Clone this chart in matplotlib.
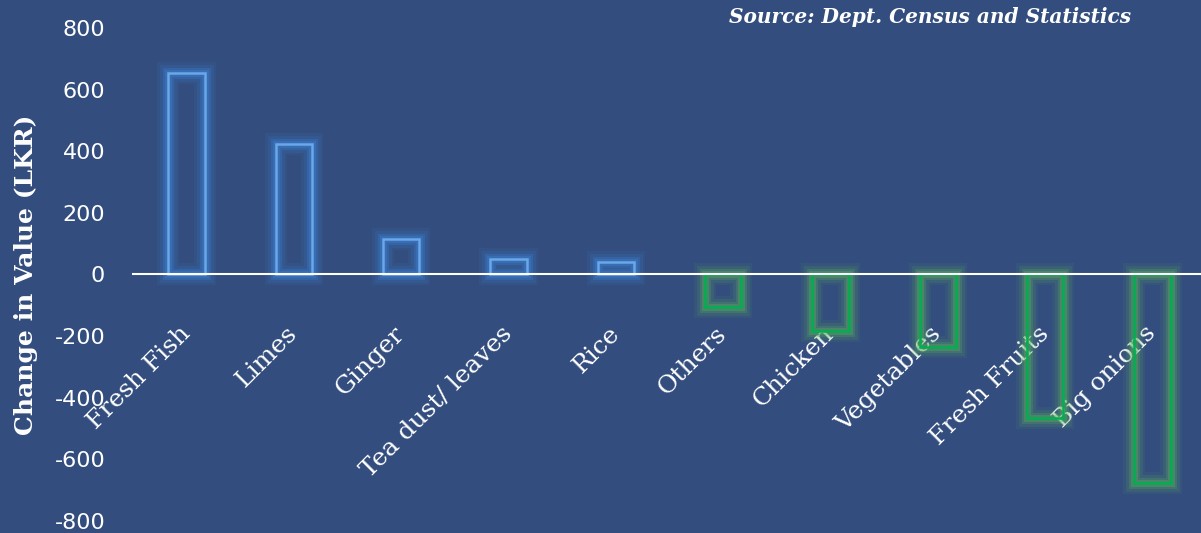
import matplotlib.pyplot as plt
import matplotlib.patheffects as pe

categories = ["Fresh Fish", "Limes", "Ginger", "Tea dust/ leaves", "Rice",
              "Others", "Chicken", "Vegetables", "Fresh Fruits", "Big onions"]
values = [655, 423, 114, 49, 39, -104, -182, -234, -465, -676]
yticks = [-800, -600, -400, -200, 0, 200, 400, 600, 800]

bg = "#334E7E"
blue_edge, blue_glow = "#6AA8E6", "#3F86E0"
green_edge, green_glow = "#00B050", "#5DB05D"

fig = plt.figure(figsize=(12.01, 5.33), dpi=100, facecolor=bg)
ax = fig.add_axes([0.1107, 0.0225, 0.8935, 0.925], facecolor=bg)

x = list(range(len(categories)))
edges = [blue_edge if v >= 0 else green_edge for v in values]
glows = [blue_glow if v >= 0 else green_glow for v in values]

bars = ax.bar(x, values, width=0.34, facecolor="none", edgecolor=edges,
              linewidth=1.8, zorder=3)
for b, g in zip(bars, glows):
    b.set_path_effects([
        pe.Stroke(linewidth=16, foreground=g, alpha=0.08),
        pe.Stroke(linewidth=12, foreground=g, alpha=0.14),
        pe.Stroke(linewidth=8, foreground=g, alpha=0.24),
        pe.Stroke(linewidth=5, foreground=g, alpha=0.32),
        pe.Normal(),
    ])

ax.set_xlim(-0.5, len(categories) - 0.5)
ax.set_ylim(-800, 800)
ax.set_yticks(yticks)
ax.set_yticklabels([str(t) for t in yticks], color="white", fontsize=16,
                   family="DejaVu Sans")
ax.tick_params(axis="y", length=0, pad=20)

# zero line doubles as the category axis
ax.spines["bottom"].set_position(("data", 0))
ax.spines["bottom"].set_color("white")
ax.spines["bottom"].set_linewidth(1.5)
ax.spines["bottom"].set_zorder(4)
for s in ["left", "right", "top"]:
    ax.spines[s].set_visible(False)

ax.set_xticks(x)
ax.set_xticklabels(categories, rotation=45, ha="right", va="center",
                   rotation_mode="anchor", color="white", fontsize=18,
                   family="DejaVu Serif")
ax.tick_params(axis="x", length=0, pad=40)

ax.set_ylabel("Change in Value (LKR)", color="white", fontsize=18,
              fontweight="bold", family="DejaVu Serif", labelpad=12)

fig.text(0.942, 0.968, "Source: Dept. Census and Statistics", color="white",
         fontsize=14.5, fontweight="bold", style="italic",
         family="DejaVu Serif", ha="right", va="center")

fig.savefig("out.png", dpi=100, facecolor=bg)
